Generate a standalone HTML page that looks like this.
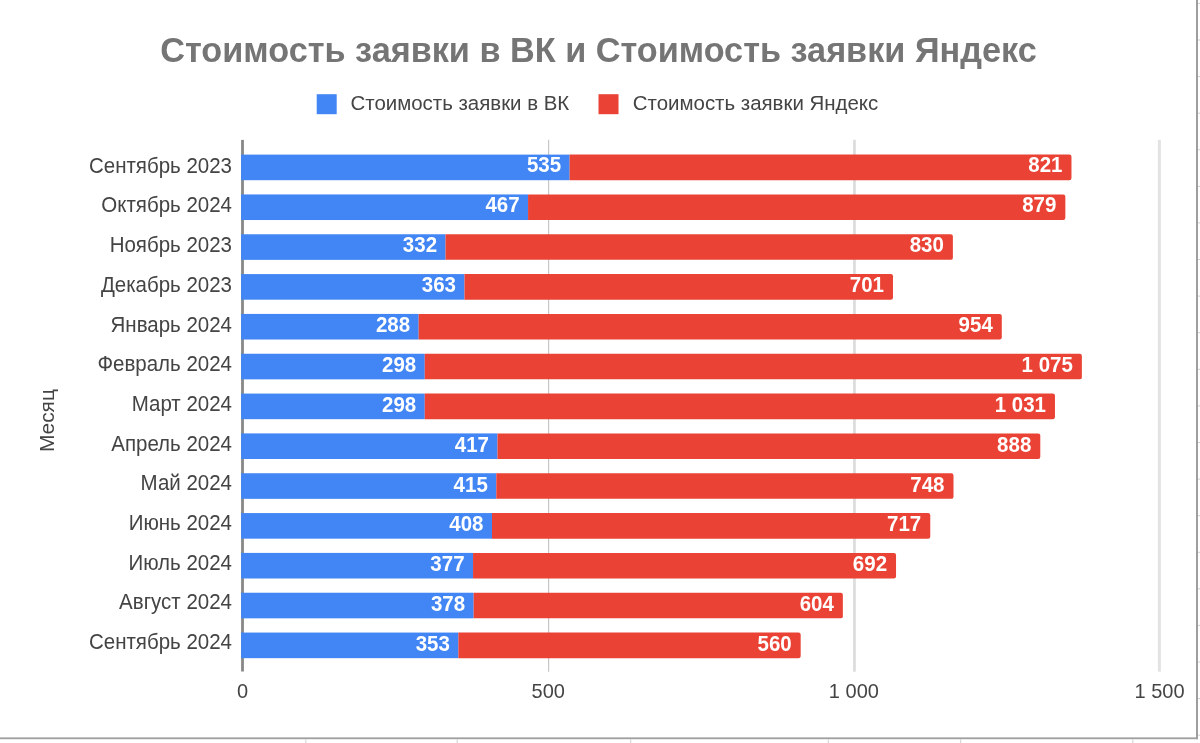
<!DOCTYPE html>
<html><head><meta charset="utf-8">
<style>
html,body{margin:0;padding:0;background:#fff;}
body{width:1200px;height:743px;overflow:hidden;position:relative;font-family:"Liberation Sans", sans-serif;}
svg{position:absolute;left:0;top:0;filter:blur(0.35px);}
.cat{font-family:"Liberation Sans", sans-serif;font-size:20.5px;fill:#444444;}
.dl{font-family:"Liberation Sans", sans-serif;font-size:20.5px;font-weight:bold;fill:#ffffff;}
.ax{font-family:"Liberation Sans", sans-serif;font-size:20px;fill:#444444;}
.title{font-family:"Liberation Sans", sans-serif;font-size:34.25px;font-weight:bold;fill:#757575;}
.leg{font-family:"Liberation Sans", sans-serif;font-size:20.45px;fill:#444444;}
</style></head><body>
<svg width="1200" height="743" viewBox="0 0 1200 743">
<rect x="0" y="0" width="1200" height="743" fill="#ffffff"/>
<text x="598.5" y="62.4" text-anchor="middle" class="title">Стоимость заявки в ВК и Стоимость заявки Яндекс</text>
<rect x="316.7" y="94.2" width="20" height="20" fill="#4285f4"/>
<text x="350.5" y="110.2" class="leg">Стоимость заявки в ВК</text>
<rect x="598.5" y="94.2" width="20" height="20" fill="#ea4335"/>
<text x="632.8" y="110.2" class="leg">Стоимость заявки Яндекс</text>
<text transform="translate(53.6 420.6) rotate(-90)" text-anchor="middle" class="leg" style="font-size:20.9px">Месяц</text>
<rect x="548.00" y="139.8" width="1.2" height="531.9" fill="#c6c6c6"/>
<rect x="853.10" y="139.8" width="2.7" height="531.9" fill="#dcdcdc"/>
<rect x="1157.90" y="139.8" width="3.0" height="531.9" fill="#e3e3e3"/>
<rect x="241.1" y="139.9" width="2.8" height="531.6" fill="#888888"/>
<rect x="241.1" y="154.60" width="328.53" height="25.6" fill="#4285f4"/>
<path d="M569.63 154.60 H1069.28 Q1071.48 154.60 1071.48 156.80 V178.00 Q1071.48 180.20 1069.28 180.20 H569.63 Z" fill="#ea4335"/>
<text transform="translate(232 172.70) scale(1 1.05)" text-anchor="end" class="cat">Сентябрь 2023</text>
<text transform="translate(561.13 172.30) scale(1 1.05)" text-anchor="end" class="dl">535</text>
<text transform="translate(1062.48 172.30) scale(1 1.05)" text-anchor="end" class="dl">821</text>
<rect x="241.1" y="194.43" width="286.96" height="25.6" fill="#4285f4"/>
<path d="M528.06 194.43 H1063.16 Q1065.36 194.43 1065.36 196.63 V217.83 Q1065.36 220.03 1063.16 220.03 H528.06 Z" fill="#ea4335"/>
<text transform="translate(232 212.40) scale(1 1.05)" text-anchor="end" class="cat">Октябрь 2024</text>
<text transform="translate(519.56 212.21) scale(1 1.05)" text-anchor="end" class="dl">467</text>
<text transform="translate(1056.36 212.21) scale(1 1.05)" text-anchor="end" class="dl">879</text>
<rect x="241.1" y="234.26" width="204.44" height="25.6" fill="#4285f4"/>
<path d="M445.54 234.26 H950.69 Q952.89 234.26 952.89 236.46 V257.66 Q952.89 259.86 950.69 259.86 H445.54 Z" fill="#ea4335"/>
<text transform="translate(232 252.10) scale(1 1.05)" text-anchor="end" class="cat">Ноябрь 2023</text>
<text transform="translate(437.04 252.12) scale(1 1.05)" text-anchor="end" class="dl">332</text>
<text transform="translate(943.89 252.12) scale(1 1.05)" text-anchor="end" class="dl">830</text>
<rect x="241.1" y="274.09" width="223.39" height="25.6" fill="#4285f4"/>
<path d="M464.49 274.09 H890.79 Q892.99 274.09 892.99 276.29 V297.49 Q892.99 299.69 890.79 299.69 H464.49 Z" fill="#ea4335"/>
<text transform="translate(232 291.80) scale(1 1.05)" text-anchor="end" class="cat">Декабрь 2023</text>
<text transform="translate(455.99 292.03) scale(1 1.05)" text-anchor="end" class="dl">363</text>
<text transform="translate(883.99 292.03) scale(1 1.05)" text-anchor="end" class="dl">701</text>
<rect x="241.1" y="313.92" width="177.54" height="25.6" fill="#4285f4"/>
<path d="M418.64 313.92 H999.59 Q1001.79 313.92 1001.79 316.12 V337.32 Q1001.79 339.52 999.59 339.52 H418.64 Z" fill="#ea4335"/>
<text transform="translate(232 331.50) scale(1 1.05)" text-anchor="end" class="cat">Январь 2024</text>
<text transform="translate(410.14 331.94) scale(1 1.05)" text-anchor="end" class="dl">288</text>
<text transform="translate(992.79 331.94) scale(1 1.05)" text-anchor="end" class="dl">954</text>
<rect x="241.1" y="353.75" width="183.66" height="25.6" fill="#4285f4"/>
<path d="M424.76 353.75 H1079.67 Q1081.87 353.75 1081.87 355.95 V377.15 Q1081.87 379.35 1079.67 379.35 H424.76 Z" fill="#ea4335"/>
<text transform="translate(232 371.20) scale(1 1.05)" text-anchor="end" class="cat">Февраль 2024</text>
<text transform="translate(416.26 371.85) scale(1 1.05)" text-anchor="end" class="dl">298</text>
<text transform="translate(1072.87 371.85) scale(1 1.05)" text-anchor="end" class="dl">1 075</text>
<rect x="241.1" y="393.58" width="183.66" height="25.6" fill="#4285f4"/>
<path d="M424.76 393.58 H1052.77 Q1054.97 393.58 1054.97 395.78 V416.98 Q1054.97 419.18 1052.77 419.18 H424.76 Z" fill="#ea4335"/>
<text transform="translate(232 410.90) scale(1 1.05)" text-anchor="end" class="cat">Март 2024</text>
<text transform="translate(416.26 411.76) scale(1 1.05)" text-anchor="end" class="dl">298</text>
<text transform="translate(1045.97 411.76) scale(1 1.05)" text-anchor="end" class="dl">1 031</text>
<rect x="241.1" y="433.41" width="256.40" height="25.6" fill="#4285f4"/>
<path d="M497.50 433.41 H1038.10 Q1040.30 433.41 1040.30 435.61 V456.81 Q1040.30 459.01 1038.10 459.01 H497.50 Z" fill="#ea4335"/>
<text transform="translate(232 450.60) scale(1 1.05)" text-anchor="end" class="cat">Апрель 2024</text>
<text transform="translate(489.00 451.67) scale(1 1.05)" text-anchor="end" class="dl">417</text>
<text transform="translate(1031.30 451.67) scale(1 1.05)" text-anchor="end" class="dl">888</text>
<rect x="241.1" y="473.24" width="255.18" height="25.6" fill="#4285f4"/>
<path d="M496.28 473.24 H951.30 Q953.50 473.24 953.50 475.44 V496.64 Q953.50 498.84 951.30 498.84 H496.28 Z" fill="#ea4335"/>
<text transform="translate(232 490.30) scale(1 1.05)" text-anchor="end" class="cat">Май 2024</text>
<text transform="translate(487.78 491.58) scale(1 1.05)" text-anchor="end" class="dl">415</text>
<text transform="translate(944.50 491.58) scale(1 1.05)" text-anchor="end" class="dl">748</text>
<rect x="241.1" y="513.07" width="250.90" height="25.6" fill="#4285f4"/>
<path d="M492.00 513.07 H928.07 Q930.27 513.07 930.27 515.27 V536.47 Q930.27 538.67 928.07 538.67 H492.00 Z" fill="#ea4335"/>
<text transform="translate(232 530.00) scale(1 1.05)" text-anchor="end" class="cat">Июнь 2024</text>
<text transform="translate(483.50 531.49) scale(1 1.05)" text-anchor="end" class="dl">408</text>
<text transform="translate(921.27 531.49) scale(1 1.05)" text-anchor="end" class="dl">717</text>
<rect x="241.1" y="552.90" width="231.95" height="25.6" fill="#4285f4"/>
<path d="M473.05 552.90 H893.84 Q896.04 552.90 896.04 555.10 V576.30 Q896.04 578.50 893.84 578.50 H473.05 Z" fill="#ea4335"/>
<text transform="translate(232 569.70) scale(1 1.05)" text-anchor="end" class="cat">Июль 2024</text>
<text transform="translate(464.55 571.40) scale(1 1.05)" text-anchor="end" class="dl">377</text>
<text transform="translate(887.04 571.40) scale(1 1.05)" text-anchor="end" class="dl">692</text>
<rect x="241.1" y="592.73" width="232.56" height="25.6" fill="#4285f4"/>
<path d="M473.66 592.73 H840.66 Q842.86 592.73 842.86 594.93 V616.13 Q842.86 618.33 840.66 618.33 H473.66 Z" fill="#ea4335"/>
<text transform="translate(232 609.40) scale(1 1.05)" text-anchor="end" class="cat">Август 2024</text>
<text transform="translate(465.16 611.31) scale(1 1.05)" text-anchor="end" class="dl">378</text>
<text transform="translate(833.86 611.31) scale(1 1.05)" text-anchor="end" class="dl">604</text>
<rect x="241.1" y="632.56" width="217.28" height="25.6" fill="#4285f4"/>
<path d="M458.38 632.56 H798.49 Q800.69 632.56 800.69 634.76 V655.96 Q800.69 658.16 798.49 658.16 H458.38 Z" fill="#ea4335"/>
<text transform="translate(232 649.10) scale(1 1.05)" text-anchor="end" class="cat">Сентябрь 2024</text>
<text transform="translate(449.88 651.22) scale(1 1.05)" text-anchor="end" class="dl">353</text>
<text transform="translate(791.69 651.22) scale(1 1.05)" text-anchor="end" class="dl">560</text>
<text transform="translate(242.60 697.9) scale(1 1.05)" text-anchor="middle" class="ax">0</text>
<text transform="translate(548.23 697.9) scale(1 1.05)" text-anchor="middle" class="ax">500</text>
<text transform="translate(853.87 697.9) scale(1 1.05)" text-anchor="middle" class="ax">1 000</text>
<text transform="translate(1159.50 697.9) scale(1 1.05)" text-anchor="middle" class="ax">1 500</text>
<!-- sheet grid -->
<rect x="0" y="737.4" width="1198" height="1.8" fill="#9e9e9e"/>
<rect x="1196" y="0" width="2" height="739.2" fill="#9e9e9e"/>
<rect x="305.3" y="739.2" width="1" height="3.8" fill="#cfcfcf"/>
<rect x="456.7" y="739.2" width="1" height="3.8" fill="#cfcfcf"/>
<rect x="630.2" y="739.2" width="1" height="3.8" fill="#cfcfcf"/>
<rect x="827.8" y="739.2" width="1" height="3.8" fill="#cfcfcf"/>
<rect x="960.2" y="739.2" width="1" height="3.8" fill="#cfcfcf"/>
<rect x="1132.3" y="739.2" width="1" height="3.8" fill="#cfcfcf"/>
<rect x="1198" y="2.9" width="2" height="1" fill="#cfcfcf"/>
<rect x="1198" y="39.5" width="2" height="1" fill="#cfcfcf"/>
<rect x="1198" y="76.1" width="2" height="1" fill="#cfcfcf"/>
<rect x="1198" y="112.7" width="2" height="1" fill="#cfcfcf"/>
<rect x="1198" y="149.3" width="2" height="1" fill="#cfcfcf"/>
<rect x="1198" y="185.9" width="2" height="1" fill="#cfcfcf"/>
<rect x="1198" y="222.4" width="2" height="1" fill="#cfcfcf"/>
<rect x="1198" y="259.0" width="2" height="1" fill="#cfcfcf"/>
<rect x="1198" y="295.6" width="2" height="1" fill="#cfcfcf"/>
<rect x="1198" y="332.2" width="2" height="1" fill="#cfcfcf"/>
<rect x="1198" y="368.8" width="2" height="1" fill="#cfcfcf"/>
<rect x="1198" y="405.4" width="2" height="1" fill="#cfcfcf"/>
<rect x="1198" y="442.0" width="2" height="1" fill="#cfcfcf"/>
<rect x="1198" y="478.6" width="2" height="1" fill="#cfcfcf"/>
<rect x="1198" y="515.2" width="2" height="1" fill="#cfcfcf"/>
<rect x="1198" y="551.8" width="2" height="1" fill="#cfcfcf"/>
<rect x="1198" y="588.3" width="2" height="1" fill="#cfcfcf"/>
<rect x="1198" y="624.9" width="2" height="1" fill="#cfcfcf"/>
<rect x="1198" y="661.5" width="2" height="1" fill="#cfcfcf"/>
<rect x="1198" y="698.1" width="2" height="1" fill="#cfcfcf"/>
<rect x="1198" y="734.7" width="2" height="1" fill="#cfcfcf"/>
</svg>
</body></html>
